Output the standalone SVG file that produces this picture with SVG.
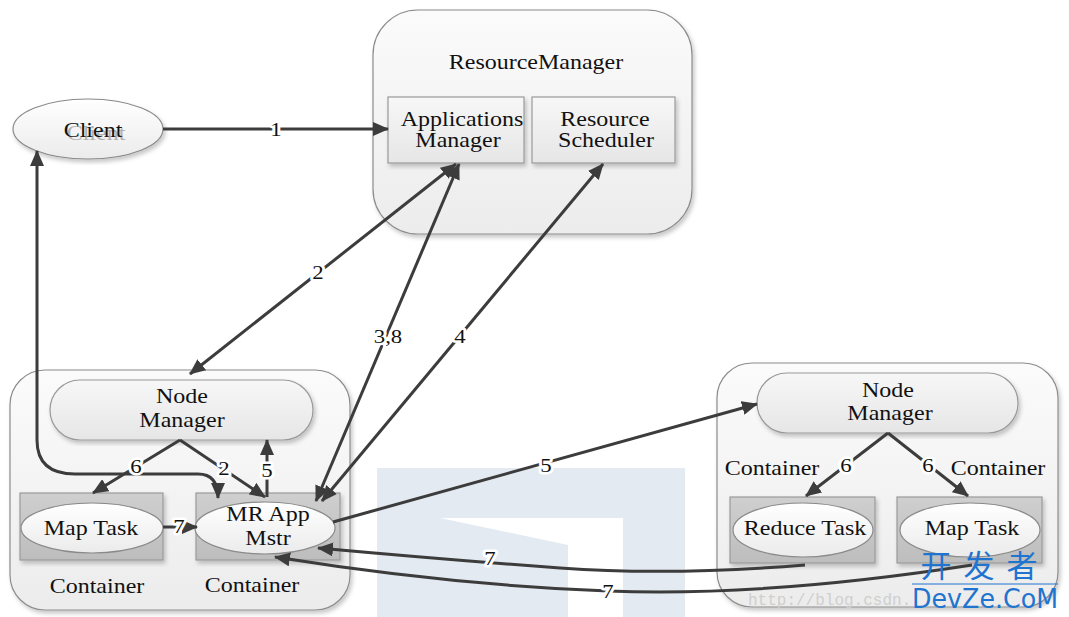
<svg xmlns="http://www.w3.org/2000/svg" width="1069" height="617" viewBox="0 0 1069 617">
<defs>
<linearGradient id="gBox" x1="0" y1="0" x2="0" y2="1"><stop offset="0" stop-color="#fbfbfb"/><stop offset="1" stop-color="#ececec"/></linearGradient>
<linearGradient id="gInner" x1="0" y1="0" x2="0" y2="1"><stop offset="0" stop-color="#f7f7f7"/><stop offset="1" stop-color="#e6e6e6"/></linearGradient>
<linearGradient id="gCont" x1="0" y1="0" x2="0" y2="1"><stop offset="0" stop-color="#cfcfcf"/><stop offset="1" stop-color="#bdbdbd"/></linearGradient>
<linearGradient id="gEll" x1="0" y1="0" x2="0" y2="1"><stop offset="0" stop-color="#ffffff"/><stop offset="1" stop-color="#ebebeb"/></linearGradient>
<filter id="sh" x="-5%" y="-5%" width="115%" height="115%"><feDropShadow dx="2" dy="3" stdDeviation="2" flood-color="#000" flood-opacity="0.22"/></filter>
<marker id="ah" viewBox="0 0 16 14" refX="15" refY="7" markerWidth="16" markerHeight="14" markerUnits="userSpaceOnUse" orient="auto-start-reverse"><path d="M0,0 L16,7 L0,14 Z" fill="#3c3c3c"/></marker>
<style>
.big{fill:url(#gBox);stroke:#8c8c8c;stroke-width:1.2;filter:url(#sh)}
.inner{fill:url(#gInner);stroke:#999;stroke-width:1.2;filter:url(#sh)}
.cont{fill:url(#gCont);stroke:#9a9a9a;stroke-width:1.2;filter:url(#sh)}
.ell{fill:url(#gEll);stroke:#8a8a8a;stroke-width:1.2}
.t{font-family:"Liberation Serif","Times New Roman",serif;font-size:20px;fill:#111;text-anchor:middle}
.lb{font-family:"Liberation Serif","Times New Roman",serif;font-size:19px;fill:#111;text-anchor:middle;paint-order:stroke;stroke:#fff;stroke-width:5px;stroke-linejoin:round}
.c{fill:none;stroke:#3c3c3c;stroke-width:3}
.e{marker-end:url(#ah)}
.s{marker-start:url(#ah)}
</style>
</defs>
<rect width="1069" height="617" fill="#fff"/>

<g id="watermark-bg" fill="#e4eaf1">
<path d="M377,468 L685,468 L685,617 L377,617 Z M440,518 L568,545 L568,617 L623,617 L623,518 Z" fill-rule="evenodd"/>
</g>

<g id="resourcemanager">
<rect class="big" x="373" y="10" width="319" height="224" rx="45"/>
<text class="t" transform="translate(536 69) scale(1.2 1)">ResourceManager</text>
</g>
<g id="applications-manager">
<rect class="inner" x="388" y="97" width="136" height="66"/>
<text class="t" transform="translate(462 126) scale(1.2 1)">Applications</text>
<text class="t" transform="translate(458 147) scale(1.2 1)">Manager</text>
</g>
<g id="resource-scheduler">
<rect class="inner" x="532" y="97" width="143" height="66"/>
<text class="t" transform="translate(605 126) scale(1.2 1)">Resource</text>
<text class="t" transform="translate(606 147) scale(1.2 1)">Scheduler</text>
</g>

<g id="client">
<ellipse class="ell" cx="88" cy="129" rx="75" ry="30" filter="url(#sh)"/>
<text class="t" style="fill:#b0b0b0" transform="translate(96 140) scale(1.2 1)">Client</text>
<text class="t" transform="translate(93 137) scale(1.2 1)">Client</text>
</g>

<g id="node1">
<rect class="big" x="10" y="370" width="340" height="240" rx="35"/>
<text class="t" transform="translate(97 593) scale(1.2 1)">Container</text>
<text class="t" transform="translate(252 592) scale(1.2 1)">Container</text>
</g>
<g id="nodemanager1">
<rect class="inner" x="50" y="380" width="263" height="60" rx="30"/>
<text class="t" transform="translate(182 403) scale(1.2 1)">Node</text>
<text class="t" transform="translate(182 427) scale(1.2 1)">Manager</text>
</g>
<g id="maptask1">
<rect class="cont" x="20" y="493" width="143" height="67"/>
<ellipse class="ell" cx="92" cy="528" rx="71" ry="25"/>
<text class="t" transform="translate(91 535) scale(1.2 1)">Map Task</text>
</g>
<g id="mrappmstr">
<rect class="cont" x="196" y="493" width="144" height="67"/>
<ellipse class="ell" cx="265" cy="528" rx="70" ry="26"/>
<text class="t" transform="translate(268 521) scale(1.2 1)">MR App</text>
<text class="t" transform="translate(268 545) scale(1.2 1)">Mstr</text>
</g>

<g id="node2">
<rect class="big" x="717" y="363" width="341" height="244" rx="35"/>
<text class="t" transform="translate(772 475) scale(1.2 1)">Container</text>
<text class="t" transform="translate(998 475) scale(1.2 1)">Container</text>
</g>
<g id="nodemanager2">
<rect class="inner" x="757" y="373" width="261" height="60" rx="30"/>
<text class="t" transform="translate(888 397) scale(1.2 1)">Node</text>
<text class="t" transform="translate(890 420) scale(1.2 1)">Manager</text>
</g>
<g id="reducetask">
<rect class="cont" x="730" y="497" width="145" height="66"/>
<ellipse class="ell" cx="803" cy="530" rx="70" ry="27"/>
<text class="t" transform="translate(805 535) scale(1.2 1)">Reduce Task</text>
</g>
<g id="maptask2">
<rect class="cont" x="897" y="497" width="145" height="66"/>
<ellipse class="ell" cx="970" cy="530" rx="70" ry="27"/>
<text class="t" transform="translate(972 535) scale(1.2 1)">Map Task</text>
</g>

<g id="connectors">
<path class="c e" d="M163,129 L388,129"/>
<path class="c e s" d="M190,374 L456,164"/>
<path class="c e s" d="M316,501 L459,164"/>
<path class="c e s" d="M322,501 L603,164"/>
<path class="c e" d="M333,522 L757,404"/>
<path class="c e s" d="M37,151 L37,440 Q37,474 75,474 L198,474 Q218,474 218,498"/>
<path class="c e" d="M180,440 L93,493"/>
<path class="c e" d="M180,440 L265,497"/>
<path class="c e" d="M267,497 L267,440"/>
<path class="c e" d="M163,527 L197,527"/>
<path class="c e" d="M888,433 L806,496"/>
<path class="c e" d="M888,433 L968,496"/>
<path class="c s" d="M318,548 Q450,560 560,568 T805,565"/>
<path class="c s" d="M275,557 Q450,585 608,591 T972,565"/>
<text class="lb" transform="translate(276 136) scale(1.2 1)">1</text>
<text class="lb" transform="translate(318 279) scale(1.2 1)">2</text>
<text class="lb" transform="translate(388 343) scale(1.2 1)">3,8</text>
<text class="lb" transform="translate(460 343) scale(1.2 1)">4</text>
<text class="lb" transform="translate(546 472) scale(1.2 1)">5</text>
<text class="lb" transform="translate(136 473) scale(1.2 1)">6</text>
<text class="lb" transform="translate(224 475) scale(1.2 1)">2</text>
<text class="lb" transform="translate(267 477) scale(1.2 1)">5</text>
<text class="lb" transform="translate(179 533) scale(1.2 1)">7</text>
<text class="lb" transform="translate(846 472) scale(1.2 1)">6</text>
<text class="lb" transform="translate(928 472) scale(1.2 1)">6</text>
<text class="lb" transform="translate(490 565) scale(1.2 1)">7</text>
<text class="lb" transform="translate(608 598) scale(1.2 1)">7</text>
</g>

<g id="watermark">
<text x="748" y="605" font-family="Liberation Mono, monospace" font-size="16" fill="#cfcfcf">http://blog.csdn.</text>
<text x="985" y="577" font-family="Noto Sans CJK SC, sans-serif" font-size="31" fill="#1f74cf" text-anchor="middle" letter-spacing="12">开发者</text>
<line x1="912" y1="584" x2="1058" y2="584" stroke="#1f74cf" stroke-width="1"/>
<text x="985" y="608" font-family="DejaVu Sans, sans-serif" font-size="26" fill="#1f74cf" text-anchor="middle" textLength="146" lengthAdjust="spacingAndGlyphs">DevZe.CoM</text>
</g>
</svg>
